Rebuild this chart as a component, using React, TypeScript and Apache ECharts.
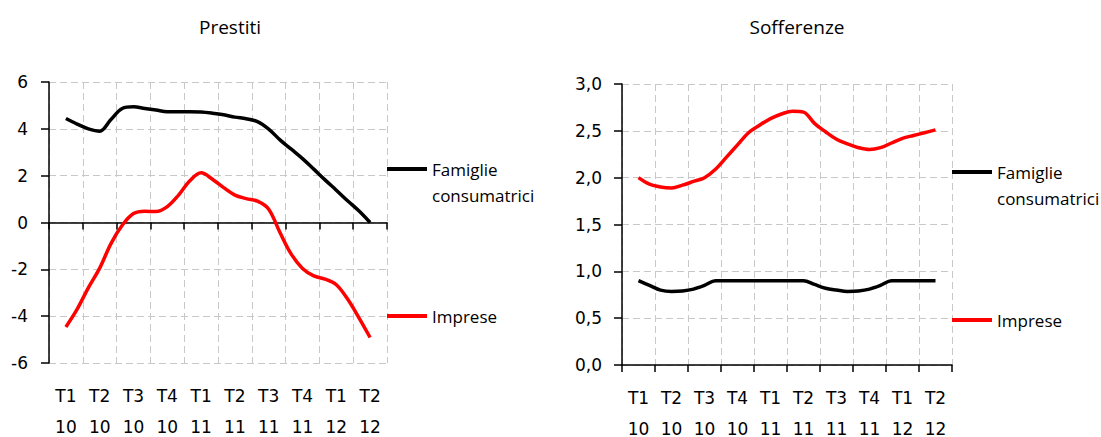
import { useEffect, useRef } from 'react';
import * as echarts from 'echarts';

const quarters = ['T1\n10', 'T2\n10', 'T3\n10', 'T4\n10', 'T1\n11', 'T2\n11', 'T3\n11', 'T4\n11', 'T1\n12', 'T2\n12'];
const titles = ['Prestiti', 'Sofferenze'];
const seriesNames = ['Famiglie consumatrici', 'Imprese'];
const legendLabels = ['\nFamiglie\nconsumatrici', 'Imprese'];
const colors = ['#000000', '#ff0000'];

// monthly observations, from mid T1 2010 to mid T2 2012
const prestitiFamiglie = [4.44, 4.2, 4.0, 3.9, 4.4, 4.87, 4.94, 4.87, 4.8, 4.73, 4.73, 4.73, 4.72, 4.67, 4.6, 4.5, 4.43, 4.31, 3.99, 3.53, 3.13, 2.73, 2.28, 1.82, 1.38, 0.93, 0.5, 0.0];
const prestitiImprese = [-4.46, -3.7, -2.78, -1.95, -0.9, -0.12, 0.38, 0.48, 0.47, 0.68, 1.17, 1.78, 2.12, 1.85, 1.49, 1.17, 1.02, 0.91, 0.57, -0.43, -1.35, -1.96, -2.28, -2.42, -2.66, -3.27, -4.06, -4.91];
const sofferenzeFamiglie = [0.9, 0.85, 0.8, 0.785, 0.79, 0.81, 0.85, 0.9, 0.9, 0.9, 0.9, 0.9, 0.9, 0.9, 0.9, 0.9, 0.86, 0.82, 0.8, 0.785, 0.79, 0.81, 0.85, 0.9, 0.9, 0.9, 0.9, 0.9];
const sofferenzeImprese = [2.0, 1.93, 1.9, 1.89, 1.92, 1.96, 2.0, 2.09, 2.22, 2.35, 2.48, 2.56, 2.63, 2.68, 2.71, 2.7, 2.58, 2.49, 2.41, 2.36, 2.32, 2.3, 2.32, 2.37, 2.42, 2.45, 2.48, 2.51];

const MONTHS = quarters.length * 3;
const FIRST_MONTH_POS = 1.5; // centre of the first quarter on the month scale

const toPoints = (vals: number[]) => vals.map((v, i) => [FIRST_MONTH_POS + i, v]);

export default function App() {
  const ref = useRef<HTMLDivElement>(null);

  useEffect(() => {
    document.body.style.margin = '0';
    if (!ref.current) return;
    const chart = echarts.init(ref.current, null, { renderer: 'svg' });

    const dash = { type: [7, 4] as any, color: '#c8c8c8', width: 1 };
    const axisBlack = { color: '#000', width: 1.5 };
    const labelFont = { fontFamily: "'DejaVu Sans', sans-serif", fontSize: 17, color: '#000' };
    const legendFont = { fontFamily: "'Open Sans', sans-serif", fontSize: 17, color: '#000' };

    const grids = [
      { left: 49, top: 82, width: 338, height: 281, outerBoundsMode: 'none', containLabel: false },
      { left: 622, top: 84, width: 330, height: 281, outerBoundsMode: 'none', containLabel: false },
    ];

    const xAxis: any[] = [];
    grids.forEach((_, g) => {
      xAxis.push({
        gridIndex: g,
        type: 'category',
        data: quarters,
        position: 'bottom',
        boundaryGap: true,
        axisLine: { show: false, onZero: false },
        axisTick: { show: false },
        axisLabel: { ...labelFont, margin: 17, lineHeight: 31, interval: 0 },
        splitLine: { show: true, interval: 0, lineStyle: dash },
      });
      xAxis.push({
        gridIndex: g,
        type: 'value',
        min: 0,
        max: MONTHS,
        interval: 3,
        position: 'bottom',
        axisLine: { show: true, onZero: true, lineStyle: axisBlack },
        axisTick: { show: true, length: 7, lineStyle: axisBlack },
        axisLabel: { show: false },
        splitLine: { show: false },
      });
    });

    const yAxis: any[] = [
      {
        gridIndex: 0,
        type: 'value',
        min: -6,
        max: 6,
        interval: 2,
        axisLine: { show: true, onZero: false, lineStyle: axisBlack },
        axisTick: { show: true, length: 8, lineStyle: axisBlack },
        axisLabel: { ...labelFont, margin: 21 },
        splitLine: { show: true, lineStyle: dash },
      },
      {
        gridIndex: 1,
        type: 'value',
        min: 0,
        max: 3,
        interval: 0.5,
        axisLine: { show: true, onZero: false, lineStyle: axisBlack },
        axisTick: { show: true, length: 8, lineStyle: axisBlack },
        axisLabel: {
          ...labelFont,
          margin: 20,
          formatter: (v: number) => v.toFixed(1).replace('.', ','),
        },
        splitLine: { show: true, lineStyle: dash },
      },
    ];

    const datasets = [
      [prestitiFamiglie, prestitiImprese],
      [sofferenzeFamiglie, sofferenzeImprese],
    ];
    const series: any[] = [];
    datasets.forEach((pair, g) => {
      pair.forEach((vals, s) => {
        series.push({
          type: 'line',
          name: seriesNames[s],
          xAxisIndex: g * 2 + 1,
          yAxisIndex: g,
          data: toPoints(vals),
          smooth: 0.35,
          symbol: 'none',
          color: colors[s],
          lineStyle: { color: colors[s], width: 3.5 },
        });
      });
    });

    const legendPos = [
      { left: 387, tops: [130, 303] },
      { left: 952, tops: [133, 307] },
    ];
    const legend: any[] = [];
    legendPos.forEach((p) => {
      seriesNames.forEach((name, s) => {
        legend.push({
          data: [name],
          left: p.left,
          top: p.tops[s],
          padding: 0,
          orient: 'vertical',
          icon: 'rect',
          itemWidth: 40,
          itemHeight: 4,
          selectedMode: false,
          formatter: () => legendLabels[s],
          textStyle: { ...legendFont, lineHeight: 26 },
        });
      });
    });

    const titleFont = { fontFamily: "'Open Sans', sans-serif", fontSize: 19, fontWeight: 'normal', color: '#000' };

    chart.setOption({
      animation: false,
      backgroundColor: '#ffffff',
      title: [
        { text: titles[0], left: 230, top: 17, textAlign: 'center', padding: 0, textStyle: titleFont },
        { text: titles[1], left: 797, top: 17, textAlign: 'center', padding: 0, textStyle: titleFont },
      ],
      grid: grids,
      xAxis,
      yAxis,
      legend,
      series,
    });

    return () => chart.dispose();
  }, []);

  return <div ref={ref} style={{ width: 1101, height: 437 }} />;
}
